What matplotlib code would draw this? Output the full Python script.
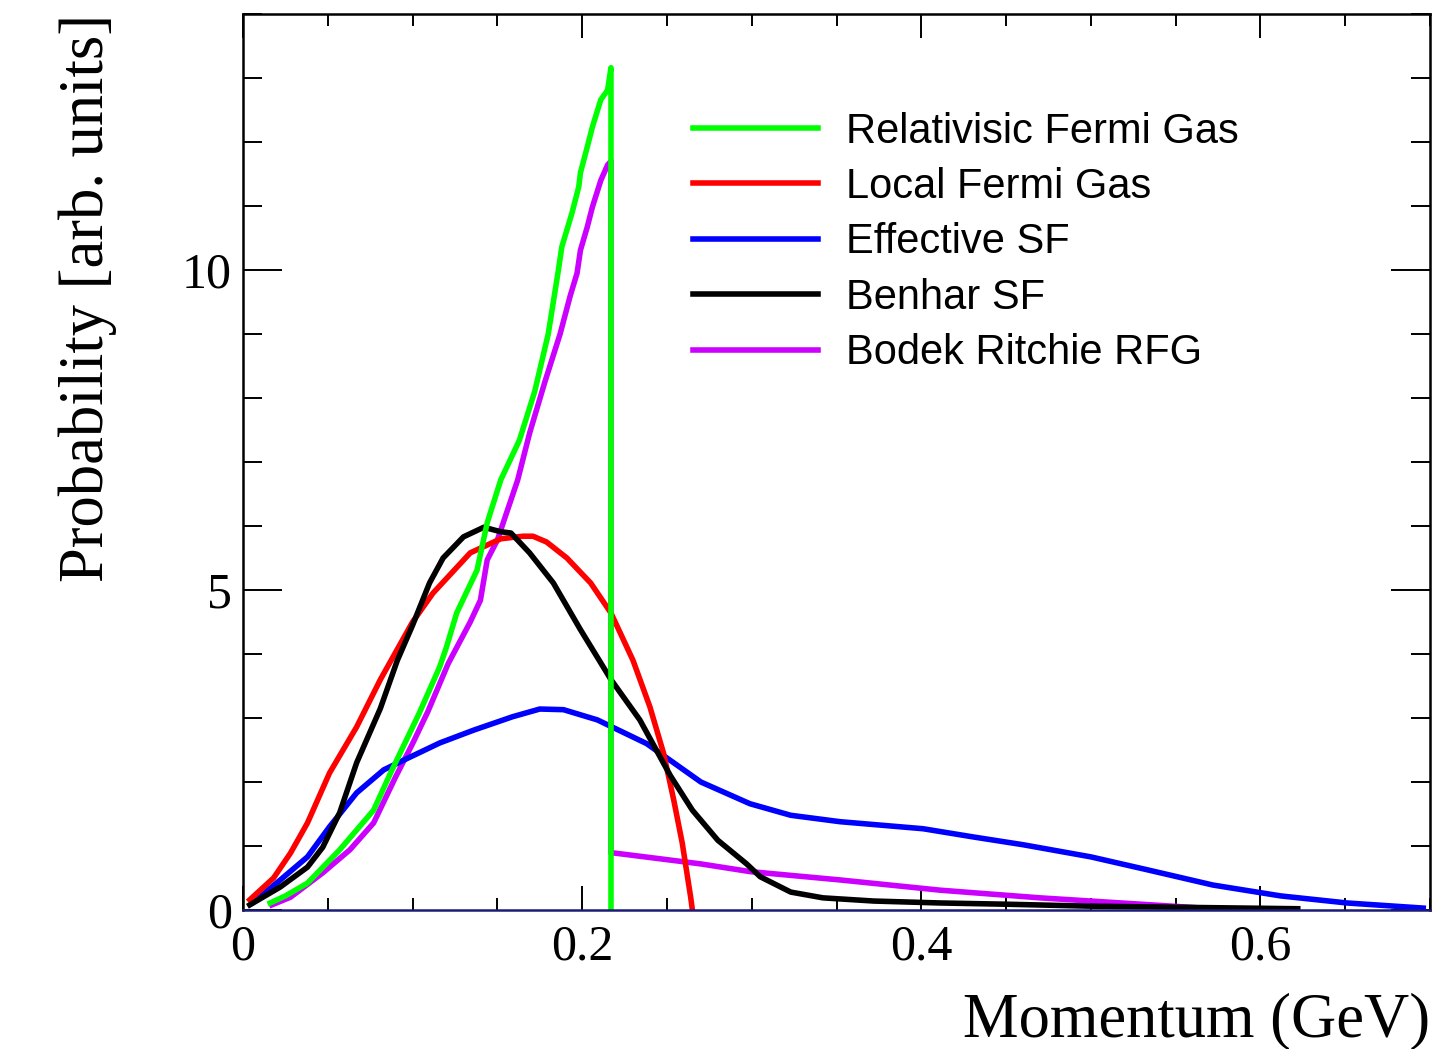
## Nucleon momentum distributions for several nuclear models
import matplotlib
matplotlib.use("Agg")
import matplotlib.pyplot as plt
from matplotlib.ticker import MultipleLocator

## momentum values (GeV) and probabilities for each model
rfg_p = [0.016, 0.025, 0.038, 0.057, 0.077, 0.087, 0.104, 0.116, 0.120, 0.126,
         0.138, 0.144, 0.152, 0.163, 0.172, 0.180, 0.183, 0.186, 0.188, 0.194,
         0.198, 0.199, 0.203, 0.206, 0.211, 0.215, 0.217, 0.217]
rfg_prob = [0.11, 0.22, 0.42, 0.94, 1.56, 2.14, 3.08, 3.80, 4.11, 4.64,
            5.31, 6.05, 6.72, 7.34, 8.10, 9.00, 9.50, 10.00, 10.36, 10.89,
            11.30, 11.52, 11.92, 12.23, 12.66, 12.81, 13.16, 0.0]

lfg_p = [0.004, 0.018, 0.028, 0.038, 0.051, 0.067, 0.081, 0.100, 0.112, 0.134,
         0.152, 0.165, 0.171, 0.179, 0.191, 0.205, 0.217, 0.230, 0.240, 0.248,
         0.254, 0.259, 0.264, 0.265]
lfg_prob = [0.16, 0.50, 0.89, 1.36, 2.14, 2.86, 3.60, 4.50, 4.95, 5.58,
            5.80, 5.84, 5.84, 5.75, 5.50, 5.11, 4.64, 3.90, 3.17, 2.45,
            1.72, 1.05, 0.20, 0.0]

esf_p = [0.006, 0.022, 0.038, 0.051, 0.067, 0.083, 0.097, 0.116, 0.136, 0.159,
         0.175, 0.189, 0.209, 0.238, 0.270, 0.299, 0.323, 0.352, 0.401, 0.431,
         0.460, 0.500, 0.533, 0.572, 0.612, 0.651, 0.696]
esf_prob = [0.12, 0.47, 0.83, 1.30, 1.83, 2.19, 2.37, 2.61, 2.81, 3.02,
            3.14, 3.13, 2.97, 2.60, 2.00, 1.66, 1.48, 1.38, 1.27, 1.14,
            1.02, 0.83, 0.63, 0.39, 0.22, 0.11, 0.03]

benhar_p = [0.004, 0.022, 0.038, 0.047, 0.057, 0.067, 0.081, 0.091, 0.100, 0.110,
            0.118, 0.130, 0.142, 0.152, 0.158, 0.169, 0.183, 0.199, 0.217, 0.234,
            0.252, 0.265, 0.280, 0.297, 0.305, 0.323, 0.342, 0.372, 0.411, 0.451,
            0.500, 0.560, 0.622]
benhar_prob = [0.08, 0.36, 0.67, 0.98, 1.52, 2.30, 3.15, 3.90, 4.45, 5.11,
               5.50, 5.83, 5.98, 5.91, 5.89, 5.58, 5.11, 4.38, 3.60, 2.97,
               2.10, 1.56, 1.09, 0.72, 0.52, 0.28, 0.19, 0.14, 0.11, 0.09,
               0.06, 0.04, 0.02]

br_p = [0.017, 0.028, 0.047, 0.063, 0.077, 0.090, 0.100, 0.109, 0.121, 0.134,
        0.140, 0.144, 0.150, 0.162, 0.169, 0.178, 0.187, 0.193, 0.197, 0.199,
        0.203, 0.206, 0.211, 0.215, 0.217, 0.217, 0.219, 0.270, 0.299, 0.352,
        0.411, 0.470, 0.494, 0.530, 0.560, 0.582]
br_prob = [0.08, 0.20, 0.58, 0.94, 1.36, 2.08, 2.60, 3.10, 3.85, 4.50,
           4.84, 5.47, 5.78, 6.72, 7.45, 8.25, 9.00, 9.60, 9.95, 10.31,
           10.67, 10.98, 11.40, 11.64, 11.70, 0.89, 0.89, 0.72, 0.60, 0.47,
           0.31, 0.19, 0.15, 0.09, 0.04, 0.0]

labels = ["Relativisic Fermi Gas", "Local Fermi Gas", "Effective SF",
          "Benhar SF", "Bodek Ritchie RFG"]

serif = "Liberation Serif"
sans = "Liberation Sans"
lw = 4.0

fig = plt.figure(figsize=(14.5, 10.49), dpi=100)
ax = fig.add_axes([0.1676, 0.1325, 0.8186, 0.8542])

## drawing order: violet and blue at the back, green vertical edge on top
l_br, = ax.plot(br_p, br_prob, color="#cc00ff", lw=lw)
l_esf, = ax.plot(esf_p, esf_prob, color="#0000ff", lw=lw)
l_lfg, = ax.plot(lfg_p, lfg_prob, color="#ff0000", lw=lw)
l_ben, = ax.plot(benhar_p, benhar_prob, color="black", lw=lw)
l_rfg, = ax.plot(rfg_p, rfg_prob, color="#00ff00", lw=lw)

ax.set_xlim(0, 0.7)
ax.set_ylim(0, 14)

## ROOT-like frame: ticks inside on every side
ax.xaxis.set_major_locator(MultipleLocator(0.2))
ax.xaxis.set_minor_locator(MultipleLocator(0.05))
ax.yaxis.set_major_locator(MultipleLocator(5))
ax.yaxis.set_minor_locator(MultipleLocator(1))
ax.tick_params(axis="x", which="major", direction="in", length=17, width=1.4,
               top=True, pad=10, labelsize=36)
ax.tick_params(axis="x", which="minor", direction="in", length=8.5, width=1.4, top=True)
ax.tick_params(axis="y", which="major", direction="in", length=28, width=1.4,
               right=True, pad=8, labelsize=36)
ax.tick_params(axis="y", which="minor", direction="in", length=14, width=1.4, right=True)
ax.set_xticks([0, 0.2, 0.4, 0.6])
ax.set_xticklabels(["0", "0.2", "0.4", "0.6"], fontfamily=serif)
ax.set_yticks([0, 5, 10])
ax.set_yticklabels(["0", "5", "10"], fontfamily=serif)
for s in ax.spines.values():
    s.set_linewidth(1.8)
ax.spines["bottom"].set_color("#1c1c78")

ax.set_xlabel("Momentum (GeV)", fontsize=45, fontfamily=serif, loc="right")
ax.set_ylabel("Probability [arb. units]", fontsize=45, fontfamily=serif, loc="top")
ax.xaxis.set_label_coords(1.0, -0.092)
ax.yaxis.set_label_coords(-0.106, 1.0)

ax.legend([l_rfg, l_lfg, l_esf, l_ben, l_br], labels, loc="upper left",
          bbox_to_anchor=(0.379, 0.891), frameon=False, borderpad=0,
          borderaxespad=0, handlelength=3.0, handletextpad=0.67,
          labelspacing=0.37, prop={"family": sans, "size": 30})

fig.savefig("out.png", dpi=100)
